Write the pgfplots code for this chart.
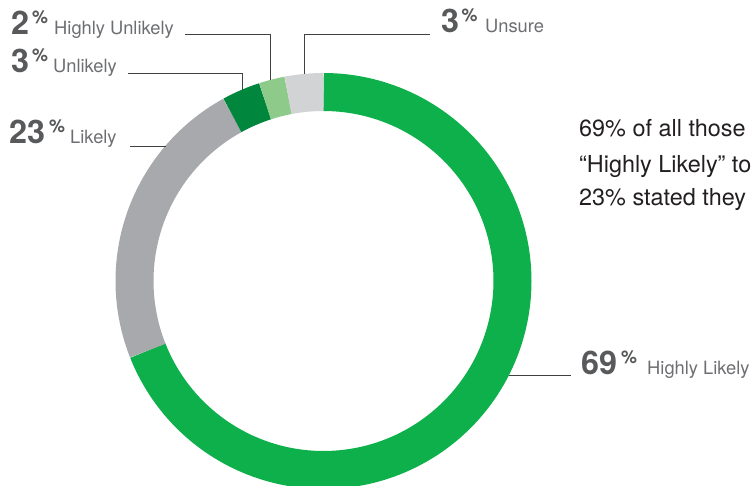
\documentclass[border=0pt]{standalone}
\usepackage{fontspec}
\setmainfont{TeX Gyre Heros}
\usepackage{pgfplots}
\pgfplotsset{compat=1.18}
\usepgfplotslibrary{polar}
\definecolor{cHL}{HTML}{0DB04B}
\definecolor{cL}{HTML}{A7A9AC}
\definecolor{cU}{HTML}{00873D}
\definecolor{cHU}{HTML}{8ECB8A}
\definecolor{cUS}{HTML}{D1D3D4}
\definecolor{numc}{HTML}{58595B}
\definecolor{lblc}{HTML}{6D6E71}
\definecolor{linec}{HTML}{414042}
\definecolor{txtc}{HTML}{231F20}
\newcommand\bignum{\fontsize{32.5}{32.5}\selectfont\bfseries\color{numc}}
\newcommand\pct{\fontsize{18}{18}\selectfont\bfseries\color{numc}}
\newcommand\lbl{\fontsize{18.4}{18.4}\selectfont\color{lblc}}
\newcommand\para{\fontsize{23.5}{23.5}\selectfont\color{txtc}}
\begin{document}
\begin{tikzpicture}
\useasboundingbox (0,0) rectangle (752bp,486bp);
\clip (0,0) rectangle (752bp,486bp);
% shares in percent: Highly Likely, Likely, Unlikely, Highly Unlikely, Unsure
\def\pHL{69}\def\pL{23}\def\pU{3}\def\pHU{2}\def\pUS{3}
\pgfmathsetmacro\aA{90-3.6*\pHL}
\pgfmathsetmacro\aB{\aA-3.6*\pL}
\pgfmathsetmacro\aC{\aB-3.6*\pU}
\pgfmathsetmacro\aD{\aC-3.6*\pHU}
\pgfmathsetmacro\aE{\aD-3.6*\pUS}
\begin{polaraxis}[at={(323.5bp,205bp)}, anchor=center, hide axis, scale only axis,
  width=416bp, height=416bp, ymin=0, ymax=208, clip=false]
\addplot[draw=cHL, line width=38bp, no markers, samples=150, domain=90:\aA] {189};
\addplot[draw=cL, line width=38bp, no markers, samples=60, domain=\aA:\aB] {189};
\addplot[draw=cU, line width=38bp, no markers, samples=10, domain=\aB:\aC] {189};
\addplot[draw=cHU, line width=38bp, no markers, samples=10, domain=\aC:\aD] {189};
\addplot[draw=cUS, line width=38bp, no markers, samples=10, domain=\aD:\aE] {189};
\end{polaraxis}
\begin{scope}[x=1bp,y=-1bp,shift={(0,-486)}]
% leader lines
\draw[linec, line width=1bp] (185,34.5) -- (270,34.5) -- (270,80);
\draw[linec, line width=1bp] (128,73.5) -- (242,73.5) -- (242,90);
\draw[linec, line width=1bp] (130,146.5) -- (166,146.5);
\draw[linec, line width=1bp] (430,34.5) -- (304,34.5) -- (304,74);
\draw[linec, line width=1bp] (509,375.5) -- (571,375.5);
% labels
\node[anchor=base west, inner sep=0] at (11,35) {\bignum 2};
\node[anchor=base west, inner sep=0] at (32,24) {\pct\%};
\node[anchor=base west, inner sep=0] at (54,35) {\lbl Highly Unlikely};
\node[anchor=base west, inner sep=0] at (11,73) {\bignum 3};
\node[anchor=base west, inner sep=0] at (32,62) {\pct\%};
\node[anchor=base west, inner sep=0] at (53,73) {\lbl Unlikely};
\node[anchor=base west, inner sep=0] at (9,143) {\bignum 23};
\node[anchor=base west, inner sep=0] at (49,132) {\pct\%};
\node[anchor=base west, inner sep=0] at (70,143) {\lbl Likely};
\node[anchor=base west, inner sep=0] at (441,33) {\bignum 3};
\node[anchor=base west, inner sep=0] at (461.5,22) {\pct\%};
\node[anchor=base west, inner sep=0] at (485,33) {\lbl Unsure};
\node[anchor=base west, inner sep=0] at (581,374) {\bignum 69};
\node[anchor=base west, inner sep=0] at (621,363) {\pct\%};
\node[anchor=base west, inner sep=0] at (647,374) {\lbl Highly Likely};
% paragraph (cut by the right edge in the reference)
\node[anchor=base west, inner sep=0] at (579,136.5) {\para 69\% of all those};
\node[anchor=base west, inner sep=0] at (579,172) {\para “Highly Likely” to};
\node[anchor=base west, inner sep=0] at (579,205) {\para 23\% stated they};
\end{scope}
\end{tikzpicture}
\end{document}
